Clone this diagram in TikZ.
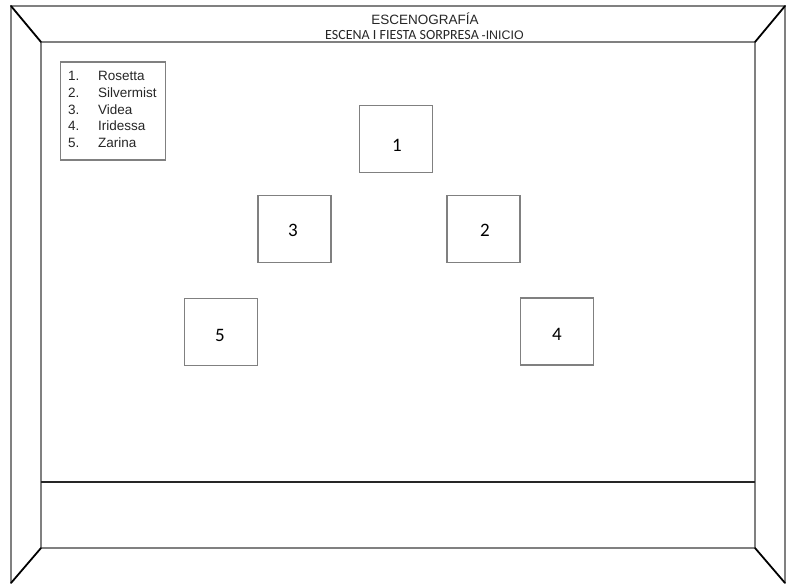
\documentclass[tikz,border=0pt]{standalone}
\usepackage{fontspec}
\setmainfont{Liberation Sans}
\newfontfamily\carl{Carlito}
\begin{document}
\begin{tikzpicture}[x=1pt,y=-1pt,
  frame/.style={draw=black!50, line width=1.3pt},
  corner/.style={draw=black, line width=1.8pt, line cap=round},
  floor/.style={draw=black!85, line width=2.4pt},
  stagebox/.style={draw=black!50, line width=1.3pt, minimum width=73pt, minimum height=67pt, inner sep=0pt},
  num/.style={font=\carl\fontsize{19}{19}\selectfont, inner sep=0pt},
  legtext/.style={font=\fontsize{13.5}{16.5}\selectfont, anchor=base west, inner sep=0pt, text=black!85},
  legbox/.style={draw=black!50, line width=1.1pt, minimum width=105pt, minimum height=98pt, inner sep=0pt}]
\useasboundingbox (0,0) rectangle (791,583);
% frame
\coordinate (o1) at (11,6);
\coordinate (o2) at (785,6);
\coordinate (o3) at (785,583);
\coordinate (o4) at (11,583);
\coordinate (i1) at (41,42);
\coordinate (i2) at (755,42);
\coordinate (i3) at (755,548);
\coordinate (i4) at (41,548);
\coordinate (d1) at (41,482);
\coordinate (d2) at (755,482);
\draw[frame] (o4) -- (o1) -- (o2) -- (o3);
\draw[frame] (i1) -- (i2) -- (i3) -- (i4) -- cycle;
\draw[corner] (o1) -- (i1);
\draw[corner] (o2) -- (i2);
\draw[corner] (o3) -- (i3);
\draw[corner] (o4) -- (i4);
\draw[floor] (d1) -- (d2);
% titles
\node[inner sep=0pt, anchor=base, text=black!85] (title) at (425,25) {\fontsize{13.5}{13.5}\selectfont ESCENOGRAFÍA};
\node[inner sep=0pt, anchor=base west, text=black!85] (sub) at (325,40) {{\carl\fontsize{14}{14}\selectfont ESCENA I FIESTA SORPRESA} {\fontsize{12.4}{12.4}\selectfont -INICIO}};
% legend
\node[legbox] (leg) at (113,111) {};
\node[legtext] (l1) at (68,81) {\makebox[30pt][l]{1.}Rosetta};
\node[legtext] (l2) at (68,97.5) {\makebox[30pt][l]{2.}Silvermist};
\node[legtext] (l3) at (68,114) {\makebox[30pt][l]{3.}Videa};
\node[legtext] (l4) at (68,130.5) {\makebox[30pt][l]{4.}Iridessa};
\node[legtext] (l5) at (68,147) {\makebox[30pt][l]{5.}Zarina};
% boxes
\node[stagebox] (b1) at (396,139) {};
\node[stagebox] (b2) at (483.5,229) {};
\node[stagebox] (b3) at (294.5,229) {};
\node[stagebox] (b4) at (557,331.5) {};
\node[stagebox] (b5) at (221,332) {};
\node[num] (n1) at (397,145) {1};
\node[num] (n2) at (485,230) {2};
\node[num] (n3) at (293,230) {3};
\node[num] (n4) at (557,334) {4};
\node[num] (n5) at (220,335) {5};
\end{tikzpicture}
\end{document}
